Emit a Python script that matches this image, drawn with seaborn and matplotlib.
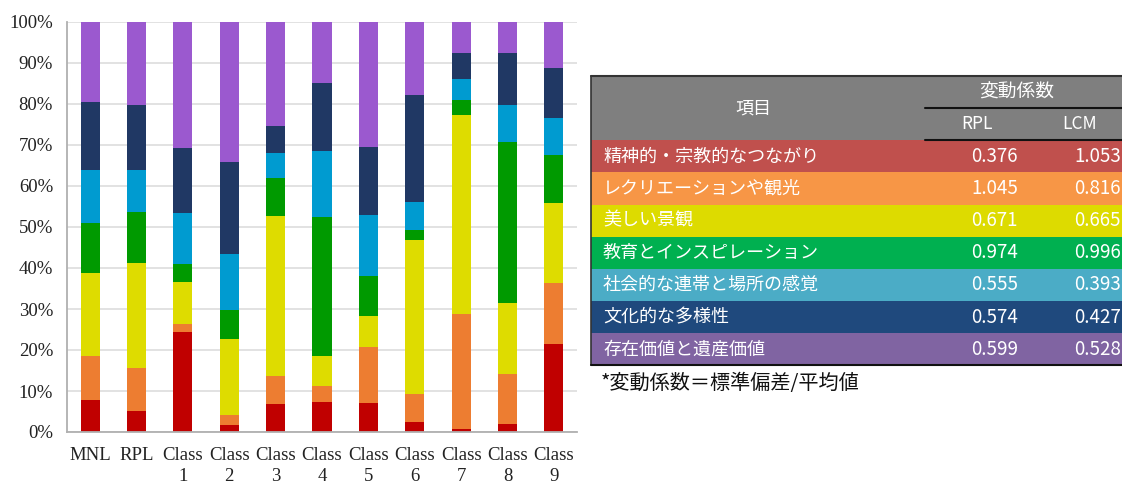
import numpy as np
import pandas as pd
import matplotlib
matplotlib.use("Agg")
import matplotlib.pyplot as plt
from matplotlib.patches import Rectangle
import seaborn as sns

# ---- data: share (%) of each attribute per model ----
models = ["MNL", "RPL", "Class\n1", "Class\n2", "Class\n3", "Class\n4",
          "Class\n5", "Class\n6", "Class\n7", "Class\n8", "Class\n9"]

spiritual = [7.8, 5.2, 24.5, 1.6, 6.8, 7.3, 7.1, 2.4, 0.8, 1.9, 21.4]
recreation = [10.7, 10.3, 1.9, 2.5, 6.9, 3.9, 13.6, 6.9, 28.1, 12.2, 15.0]
scenery = [20.4, 25.8, 10.2, 18.6, 39.0, 7.3, 7.7, 37.5, 48.4, 17.4, 19.4]
education = [12.1, 12.4, 4.3, 7.1, 9.3, 33.9, 9.7, 2.5, 3.7, 39.2, 11.7]
social = [12.9, 10.3, 12.4, 13.7, 6.0, 16.2, 14.9, 6.8, 5.0, 9.1, 9.1]
cultural = [16.6, 15.7, 16.0, 22.4, 6.6, 16.6, 16.6, 26.1, 6.5, 12.6, 12.1]
heritage = [19.5, 20.3, 30.7, 34.1, 25.4, 14.8, 30.4, 17.8, 7.5, 7.6, 11.3]

segments = [spiritual, recreation, scenery, education, social, cultural, heritage]
bar_colors = ["#C00000", "#ED7D31", "#DEDC00", "#009A00", "#009BD0", "#203864", "#9B59CF"]

# ---- table data: coefficient of variation ----
items = ["精神的・宗教的なつながり", "レクリエーションや観光", "美しい景観",
         "教育とインスピレーション", "社会的な連帯と場所の感覚",
         "文化的な多様性", "存在価値と遺産価値"]
cv_rpl = ["0.376", "1.045", "0.671", "0.974", "0.555", "0.574", "0.599"]
cv_lcm = ["1.053", "0.816", "0.665", "0.996", "0.393", "0.427", "0.528"]
row_colors = ["#C0504D", "#F79646", "#DDDB00", "#00B050", "#4BACC6", "#1F497D", "#8064A2"]

sns.set_theme(style="white")
plt.rcParams["font.family"] = ["Noto Sans CJK JP", "DejaVu Sans"]

W, H = 1122, 486
fig = plt.figure(figsize=(W / 100, H / 100), dpi=100)
ax = fig.add_axes([67 / W, 1 - 432 / H, (577 - 67) / W, (432 - 22) / H])

# stacked bars: draw cumulative totals from the top layer downwards
df = pd.DataFrame({"model": models})
cum = np.cumsum(np.array(segments), axis=0)
for k in range(len(segments) - 1, -1, -1):
    df["top"] = cum[k]
    sns.barplot(data=df, x="model", y="top", color=bar_colors[k], saturation=1,
                width=0.41, linewidth=0, ax=ax, zorder=2)

ax.set_xlim(-0.5, 10.5)
ax.set_ylim(0, 100)
ax.set_yticks(np.arange(0, 101, 10))
ax.set_yticklabels([f"{v}%" for v in range(0, 101, 10)])
ax.set_xlabel("")
ax.set_ylabel("")
ax.yaxis.grid(True, color="#DDDDDD", lw=1.2)
ax.set_axisbelow(True)
for s in ["top", "right"]:
    ax.spines[s].set_visible(False)
for s in ["left", "bottom"]:
    ax.spines[s].set_color("#B0B0B0")
    ax.spines[s].set_linewidth(1.3)
ax.tick_params(axis="both", length=0)
ax.tick_params(axis="y", pad=10)
ax.tick_params(axis="x", pad=11)
for lab in ax.get_yticklabels():
    lab.set_fontfamily("Liberation Serif")
    lab.set_fontsize(13.5)
    lab.set_color("#222222")
for lab in ax.get_xticklabels():
    lab.set_fontfamily("Liberation Serif")
    lab.set_fontsize(13.5)
    lab.set_color("#222222")
    lab.set_linespacing(1.3)

# ---- table drawn in pixel coordinates on an overlay ----
ov = fig.add_axes([0, 0, 1, 1], zorder=5)
ov.set_xlim(0, W)
ov.set_ylim(H, 0)
ov.axis("off")

tx0, tx1 = 591, 1135
ty0, head_h, row_h = 76, 64.3, 32.15
col_split = 925
rpl_right, lcm_right = 1018, 1121
fs = 13

ov.add_patch(Rectangle((tx0, ty0), tx1 - tx0, head_h, facecolor="#7F7F7F", lw=0))
ov.text(753, ty0 + head_h / 2, "項目", color="white", fontsize=fs, ha="center", va="center")
ov.text(1017, ty0 + head_h / 4, "変動係数", color="white", fontsize=fs + 0.5, ha="center", va="center")
ov.text(977, ty0 + 3 * head_h / 4, "RPL", color="white", fontsize=fs - 0.5, ha="center", va="center")
ov.text(1080, ty0 + 3 * head_h / 4, "LCM", color="white", fontsize=fs - 0.5, ha="center", va="center")
ov.plot([col_split, tx1], [ty0 + head_h / 2] * 2, color="#111111", lw=1.5)

for i, (name, a, b, c) in enumerate(zip(items, cv_rpl, cv_lcm, row_colors)):
    y0 = ty0 + head_h + i * row_h
    ov.add_patch(Rectangle((tx0, y0), tx1 - tx0, row_h, facecolor=c, lw=0))
    yc = y0 + row_h / 2
    ov.text(603, yc, name, color="white", fontsize=fs, ha="left", va="center")
    ov.text(rpl_right, yc, a, color="white", fontsize=fs + 0.5, ha="right", va="center")
    ov.text(lcm_right, yc, b, color="white", fontsize=fs + 0.5, ha="right", va="center")

ty1 = ty0 + head_h + len(items) * row_h
ov.plot([col_split, tx1], [ty0 + head_h] * 2, color="#111111", lw=1.5)
ov.plot([tx0, tx1], [ty0, ty0], color="#333333", lw=1.5)
ov.plot([tx0, tx0], [ty0, ty1], color="#333333", lw=1.2)
ov.plot([tx0, tx1], [ty1, ty1], color="#111111", lw=1.5)

ov.text(601, 383, "*変動係数＝標準偏差/平均値", color="#111111", fontsize=14.5,
        ha="left", va="center")

fig.savefig("out.png", dpi=100)
